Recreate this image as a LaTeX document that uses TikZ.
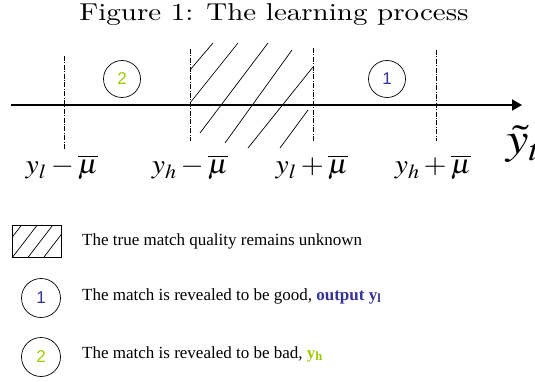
\documentclass[tikz,border=0pt]{standalone}
\usepackage{mathptmx}
\usepackage{fontspec}
\newfontfamily\timesfont{Liberation Serif}
\newfontfamily\arialfont{Liberation Sans}
\usetikzlibrary{arrows.meta}
\definecolor{goodblue}{RGB}{51,51,153}
\definecolor{badgreen}{RGB}{153,204,0}
\tikzset{
  guide/.style={line width=0.5pt,dash pattern=on 5pt off 1.5pt on 0.8pt off 1.5pt},
  hatch/.style={line width=0.7pt},
  numcircle/.style={circle,draw,line width=0.7pt,minimum size=37pt,inner sep=0pt,
    font=\arialfont\fontsize{17}{17}\selectfont},
  bound/.style={anchor=base,inner sep=0pt,xscale=1.1,font=\fontsize{27}{27}\selectfont},
  legendtext/.style={anchor=base west,inner sep=0pt,font=\timesfont\fontsize{17}{20}\selectfont}
}
\begin{document}
\begin{tikzpicture}[x=1pt,y=-1pt]
\useasboundingbox (0,0) rectangle (535,382);
\node[anchor=base,inner sep=0pt,xscale=2.9,yscale=2.44] (title) at (274,20.7) {Figure 1: The learning process};
% hatched zone
\draw[hatch] (190,70) -- (213,43);
\draw[hatch] (190,103) -- (238,43);
\draw[hatch] (200,133) -- (268,43);
\draw[hatch] (225,143) -- (292,50);
\draw[hatch] (248,148) -- (313,67);
\draw[hatch] (280,148) -- (308,110);
% axis
\coordinate (axstart) at (11,105);
\coordinate (axend) at (522,105);
\draw[line width=1.8pt,-{Triangle[length=10pt,width=11pt]}] (axstart) -- (axend);
% bounds
\foreach \name/\x/\ytop/\ybot in {lminus/64/56/150,hminus/190/49/141,lplus/313/48/141,hplus/436/50/141}{
  \coordinate (\name-top) at (\x,\ytop);
  \coordinate (\name-bot) at (\x,\ybot);
  \draw[guide] (\name-top) -- (\name-bot);
}
\node[bound] (lbl-lminus) at (62,174) {$y_l-\overline{\mu}$};
\node[bound] (lbl-hminus) at (190,174) {$y_h-\overline{\mu}$};
\node[bound] (lbl-lplus) at (312,174) {$y_l+\overline{\mu}$};
\node[bound] (lbl-hplus) at (433,174) {$y_h+\overline{\mu}$};
\node[anchor=base west,inner sep=0pt,xscale=1.15,font=\fontsize{44}{44}\selectfont] (ytilde) at (506,154) {$\tilde{y}_t$};
\node[numcircle,text=badgreen] (bad) at (122,79) {2};
\node[numcircle,text=goodblue] (good) at (387,79) {1};
% legend
\draw[line width=0.7pt] (12,225) rectangle (61,257);
\begin{scope}
  \clip (12,225) rectangle (61,257);
  \foreach \s in {-3,12.7,28.3,44}
    \draw[hatch] (\s,257) -- ++(24.6,-32);
\end{scope}
\node[legendtext] (txt-unknown) at (82,245) {The true match quality remains unknown};
\node[numcircle,text=goodblue,minimum size=39pt] (key-good) at (41,298) {1};
\node[legendtext] (txt-good) at (82,300) {The match is revealed to be good, \textcolor{goodblue}{\bfseries output y\textsubscript{l}}};
\node[numcircle,text=badgreen,minimum size=39pt] (key-bad) at (41,357) {2};
\node[legendtext] (txt-bad) at (82,358) {The match is revealed to be bad, \textcolor{badgreen}{\bfseries y\textsubscript{h}}};
\end{tikzpicture}
\end{document}
